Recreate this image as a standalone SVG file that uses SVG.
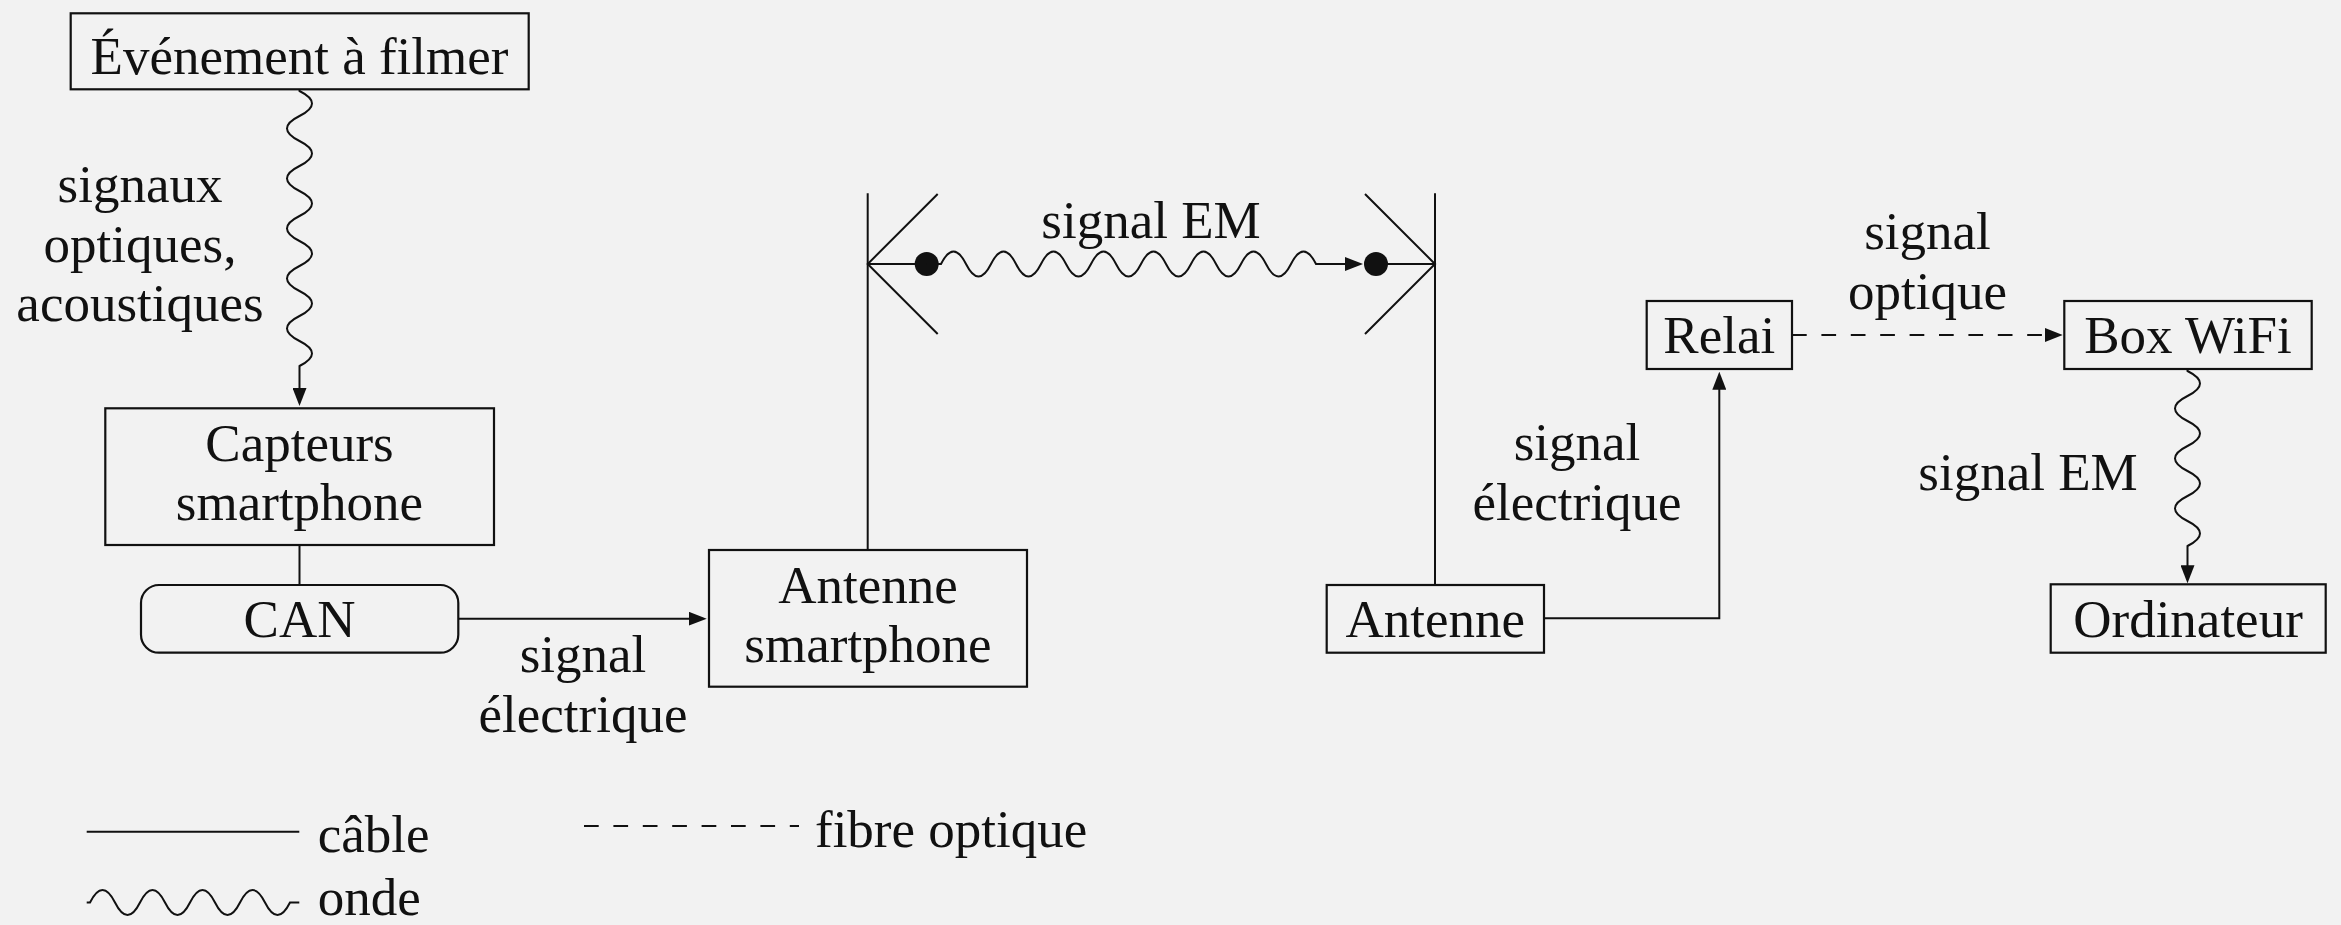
<svg xmlns="http://www.w3.org/2000/svg" width="2341" height="925" viewBox="0 0 2341 925">
<style>
  .box { fill: none; stroke: #111; stroke-width: 2.2; }
  .ln { fill: none; stroke: #111; stroke-width: 2; }
  .dash { fill: none; stroke: #111; stroke-width: 2; stroke-dasharray: 14.7 14.7; }
  text { font-family: "Liberation Serif", "Times New Roman", serif; font-size: 53px; fill: #111; text-anchor: middle; }
  .lg { text-anchor: start; }
</style>
<defs>
  <marker id="arr" markerUnits="userSpaceOnUse" viewBox="0 0 18 14" refX="14" refY="7" markerWidth="18" markerHeight="14" orient="auto">
    <path d="M0,0 L18,7 L0,14 Z" fill="#111"/>
  </marker>
</defs>
<rect x="0" y="0" width="2341" height="925" fill="#f2f2f2"/>

<g id="evenement">
  <rect class="box" x="70.7" y="13.3" width="458" height="76"/>
  <text x="299.5" y="74">Événement à filmer</text>
</g>
<g id="capteurs">
  <rect class="box" x="105.3" y="408.3" width="388.7" height="136.7"/>
  <text x="299.5" y="461">Capteurs</text>
  <text x="299.5" y="520">smartphone</text>
</g>
<g id="can">
  <rect class="box" x="141" y="585" width="317.3" height="67.7" rx="18" ry="18"/>
  <text x="299.5" y="636.5">CAN</text>
</g>
<g id="antenne-smartphone">
  <rect class="box" x="709" y="550" width="318" height="136.7"/>
  <text x="868" y="602.5">Antenne</text>
  <text x="868" y="661.5">smartphone</text>
</g>
<g id="antenne">
  <rect class="box" x="1326.7" y="585" width="217.3" height="67.7"/>
  <text x="1435.3" y="637">Antenne</text>
</g>
<g id="relai">
  <rect class="box" x="1646.7" y="301" width="145.3" height="68"/>
  <text x="1719.3" y="353">Relai</text>
</g>
<g id="box-wifi">
  <rect class="box" x="2064.3" y="301" width="247.4" height="68"/>
  <text x="2188" y="353">Box WiFi</text>
</g>
<g id="ordinateur">
  <rect class="box" x="2050.7" y="584.3" width="275" height="68.4"/>
  <text x="2188" y="636.5">Ordinateur</text>
</g>

<g id="antennas">
  <path class="ln" d="M867.7,193.3 L867.7,550"/>
  <path class="ln" d="M937.7,194 L867.7,264 L937.7,334"/>
  <path class="ln" d="M1435,193.3 L1435,585"/>
  <path class="ln" d="M1365,194 L1435,264 L1365,334"/>
  <circle cx="926.7" cy="264" r="12" fill="#111"/>
  <circle cx="1376" cy="264" r="12" fill="#111"/>
</g>

<g id="connectors">
  <path class="ln" marker-end="url(#arr)" d="M299.5,89.3 L299.5,91 c16.67,8.33 16.67,16.67 0,25 c-16.67,8.33 -16.67,16.67 0,25 c16.67,8.33 16.67,16.67 0,25 c-16.67,8.33 -16.67,16.67 0,25 c16.67,8.33 16.67,16.67 0,25 c-16.67,8.33 -16.67,16.67 0,25 c16.67,8.33 16.67,16.67 0,25 c-16.67,8.33 -16.67,16.67 0,25 c16.67,8.33 16.67,16.67 0,25 c-16.67,8.33 -16.67,16.67 0,25 c16.67,8.33 16.67,16.67 0,25 L299.5,402"/>
  <path class="ln" d="M299.5,545 L299.5,585"/>
  <path class="ln" marker-end="url(#arr)" d="M458.3,618.7 L702.7,618.7"/>
  <path class="ln" d="M867.7,264 L926.7,264"/>
  <path class="ln" marker-end="url(#arr)" d="M926.7,264 L941,264 c8.33,-16.67 16.67,-16.67 25,0 c8.33,16.67 16.67,16.67 25,0 c8.33,-16.67 16.67,-16.67 25,0 c8.33,16.67 16.67,16.67 25,0 c8.33,-16.67 16.67,-16.67 25,0 c8.33,16.67 16.67,16.67 25,0 c8.33,-16.67 16.67,-16.67 25,0 c8.33,16.67 16.67,16.67 25,0 c8.33,-16.67 16.67,-16.67 25,0 c8.33,16.67 16.67,16.67 25,0 c8.33,-16.67 16.67,-16.67 25,0 c8.33,16.67 16.67,16.67 25,0 c8.33,-16.67 16.67,-16.67 25,0 c8.33,16.67 16.67,16.67 25,0 c8.33,-16.67 16.67,-16.67 25,0 L1359,264"/>
  <path class="ln" d="M1376,264 L1435,264"/>
  <path class="ln" marker-end="url(#arr)" d="M1544,618.3 L1719.3,618.3 L1719.3,375.7"/>
  <path class="dash" marker-end="url(#arr)" d="M1792,335 L2058.7,335"/>
  <path class="ln" marker-end="url(#arr)" d="M2187.5,369 L2187.5,371 c16.67,8.33 16.67,16.67 0,25 c-16.67,8.33 -16.67,16.67 0,25 c16.67,8.33 16.67,16.67 0,25 c-16.67,8.33 -16.67,16.67 0,25 c16.67,8.33 16.67,16.67 0,25 c-16.67,8.33 -16.67,16.67 0,25 c16.67,8.33 16.67,16.67 0,25 L2187.5,579.3"/>
</g>

<g id="labels">
  <text x="140" y="202">signaux</text>
  <text x="140" y="262">optiques,</text>
  <text x="140" y="321">acoustiques</text>
  <text x="583" y="672">signal</text>
  <text x="583" y="732">électrique</text>
  <text x="1151" y="238">signal EM</text>
  <text x="1577" y="460">signal</text>
  <text x="1577" y="520">électrique</text>
  <text x="1927.5" y="249">signal</text>
  <text x="1927.5" y="308.5">optique</text>
  <text x="2028" y="490">signal EM</text>
</g>

<g id="legend">
  <path class="ln" d="M86.7,831.7 L299.3,831.7"/>
  <text class="lg" x="317.7" y="852">câble</text>
  <path class="dash" d="M584,826 L799,826"/>
  <text class="lg" x="815" y="847">fibre optique</text>
  <path class="ln" d="M86.7,902.5 L90,902.5 c8.33,-16.67 16.67,-16.67 25,0 c8.33,16.67 16.67,16.67 25,0 c8.33,-16.67 16.67,-16.67 25,0 c8.33,16.67 16.67,16.67 25,0 c8.33,-16.67 16.67,-16.67 25,0 c8.33,16.67 16.67,16.67 25,0 c8.33,-16.67 16.67,-16.67 25,0 c8.33,16.67 16.67,16.67 25,0 L299.3,902.5"/>
  <text class="lg" x="317.7" y="915">onde</text>
</g>
</svg>
